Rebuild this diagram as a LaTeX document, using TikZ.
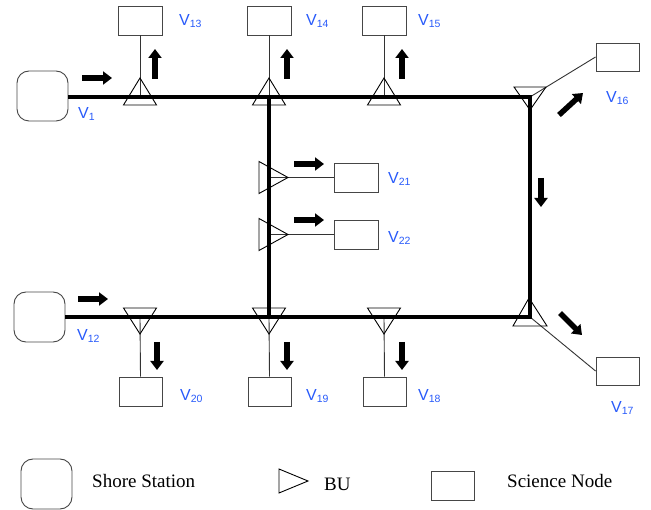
\documentclass[tikz,border=0pt]{standalone}
\usepackage{fontspec}
\setmainfont{Liberation Serif}
\newfontfamily\labfont{Liberation Sans}
\usetikzlibrary{arrows.meta,calc}

\definecolor{vblue}{RGB}{40,90,250}
\definecolor{boxgray}{RGB}{70,70,70}

\newcommand{\vname}[1]{{\labfont\fontsize{16}{16}\selectfont V\raisebox{-1.5pt}{\fontsize{10.5}{10.5}\selectfont #1}}}

\tikzset{
  shore/.style={draw=boxgray, line width=0.9pt, rounded corners=12pt, minimum width=51pt, minimum height=50pt, inner sep=0pt},
  science/.style={draw=boxgray, line width=0.9pt, minimum width=44pt, minimum height=29pt, inner sep=0pt},
  vlabel/.style={anchor=base west, inner sep=0pt, text=vblue},
  legendtext/.style={anchor=base west, inner sep=0pt, font=\fontsize{19}{19}\selectfont},
  bus/.style={line width=4.5pt, line join=miter},
  spur/.style={line width=0.9pt, draw=black!80},
  buline/.style={line width=0.9pt},
  flow/.style={line width=5.5pt, -{Triangle[width=13pt,length=9pt]}},
  buup/.pic={\draw[buline] (0,-19) -- (-16.5,8) -- (16.5,8) -- cycle;},
  budown/.pic={\draw[buline] (0,17) -- (-16.5,-9) -- (16.5,-9) -- cycle;},
  buright/.pic={\draw[buline] (19,0) -- (-10,-16) -- (-10,16) -- cycle;},
}

\begin{document}
\begin{tikzpicture}[x=1pt,y=-1pt]
\useasboundingbox (0,0) rectangle (651,510);

% shore stations
\node[shore] (s1)  at (42.5,96) {};
\node[shore] (s12) at (39.5,317) {};

% bus junctions
\coordinate (j13) at (140,97);
\coordinate (j14) at (269,97);
\coordinate (j15) at (384,97);
\coordinate (ctr) at (530,97);
\coordinate (cbr) at (530,317);
\coordinate (j20) at (140,317);
\coordinate (j19) at (269,317);
\coordinate (j18) at (384,317);
\coordinate (j21) at (269,177.5);
\coordinate (j22) at (269,234.5);

% science nodes
\node[science] (n13) at (140,20.5) {};
\node[science] (n14) at (269,20.5) {};
\node[science] (n15) at (384,20.5) {};
\node[science, minimum width=43pt, minimum height=28pt] (n16) at (617.5,57) {};
\node[science, minimum width=43pt, minimum height=28pt] (n17) at (617.5,371) {};
\node[science] (n21) at (356,177.5) {};
\node[science] (n22) at (356,234.5) {};
\node[science, minimum width=43pt] (n20) at (140.5,391.5) {};
\node[science, minimum width=43pt] (n19) at (269.5,391.5) {};
\node[science, minimum width=43pt] (n18) at (384.5,391.5) {};

% spur cables from the branching units
\draw[spur] (n13.south) -- (j13);
\draw[spur] (n14.south) -- (j14);
\draw[spur] (n15.south) -- (j15);
\draw[spur] (ctr) -- (n16.west);
\draw[spur] (cbr) -- (n17.west);
\draw[spur] (j21) -- (n21.west);
\draw[spur] (j22) -- (n22.west);
\draw[spur] (j20) -- (n20.north);
\draw[spur] (j19) -- (n19.north);
\draw[spur] (j18) -- (n18.north);

% backbone cable
\draw[bus] (s1.east |- j13) -- (ctr) -- (cbr) -- (s12.east);
\draw[bus] (j14) -- (j19);

% branching units
\pic at (j13) {buup};
\pic at (j14) {buup};
\pic at (j15) {buup};
\pic at (j20) {budown};
\pic at (j19) {budown};
\pic at (j18) {budown};
\pic at (j21) {buright};
\pic at (j22) {buright};
\draw[buline] ($(ctr)+(-16,-10)$) -- ($(ctr)+(16,-10)$) -- ($(ctr)+(0,13)$) -- cycle;
\draw[buline] ($(cbr)+(-17,9)$) -- ($(cbr)+(17,9)$) -- ($(cbr)+(-1,-19)$) -- cycle;

% data flow directions
\draw[flow] (82,78) -- (112,78);
\draw[flow] (155,79) -- (155,49);
\draw[flow] (287,79) -- (287,49);
\draw[flow] (402,79) -- (402,49);
\draw[flow] (559,115) -- (583,93);
\draw[flow] (541,178) -- (541,207);
\draw[flow] (560,313) -- (582,335);
\draw[flow] (294,164) -- (324,164);
\draw[flow] (294,220) -- (324,220);
\draw[flow] (78,299) -- (108,299);
\draw[flow] (157,342) -- (157,370);
\draw[flow] (287,342) -- (287,370);
\draw[flow] (402,342) -- (402,370);

% vertex labels
\node[vlabel] (l1)  at (78,119)  {\vname{1}};
\node[vlabel] (l13) at (179,26)  {\vname{13}};
\node[vlabel] (l14) at (306,26)  {\vname{14}};
\node[vlabel] (l15) at (418,26)  {\vname{15}};
\node[vlabel] (l16) at (606,103) {\vname{16}};
\node[vlabel] (l17) at (611,413) {\vname{17}};
\node[vlabel] (l21) at (388,184) {\vname{21}};
\node[vlabel] (l22) at (388,243) {\vname{22}};
\node[vlabel] (l12) at (77,341)  {\vname{12}};
\node[vlabel] (l20) at (180,401) {\vname{20}};
\node[vlabel] (l19) at (306,401) {\vname{19}};
\node[vlabel] (l18) at (418,401) {\vname{18}};

% legend
\node[shore] (legshore) at (46.5,484) {};
\node[legendtext] (legshoretext) at (92,488) {Shore Station};
\coordinate (legbu) at (279,481);
\draw[buline] (legbu) ++(0,-12) -- ++(29,12) -- ++(-29,12) -- cycle;
\node[legendtext] (legbutext) at (324,490) {BU};
\node[science, minimum width=43pt] (legsci) at (452.5,485.5) {};
\node[legendtext] (legscitext) at (507,488) {Science Node};
\end{tikzpicture}
\end{document}
